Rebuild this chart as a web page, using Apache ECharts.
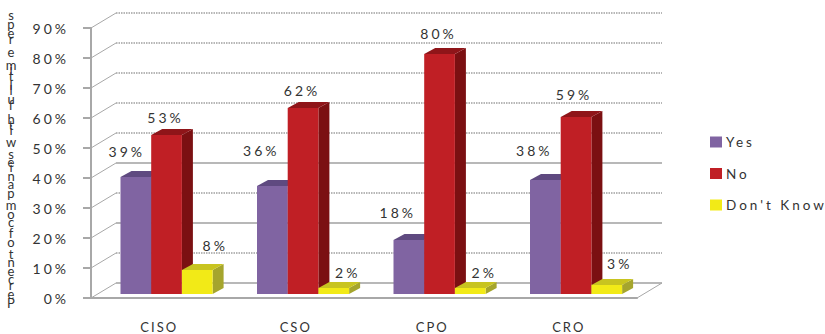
<!DOCTYPE html>
<html>
<head>
<meta charset="utf-8">
<style>
html,body{margin:0;padding:0;background:#fff}
#chart{width:825px;height:334px}
#chart text{letter-spacing:2px}
#chart text[style*="Arial"]{letter-spacing:3px}
</style>
<script src="https://cdn.jsdelivr.net/npm/echarts@6/dist/echarts.min.js"></script>
</head>
<body>
<div id="chart"></div>
<script>
// Survey results by executive role
const categories = ['CISO', 'CSO', 'CPO', 'CRO'];
const yes = [39, 36, 18, 38];
const no = [53, 62, 80, 59];
const dontKnow = [8, 2, 2, 3];
const ticks = [0, 10, 20, 30, 40, 50, 60, 70, 80, 90];
const dottedTicks = [10, 30, 50, 60, 70, 80, 90];
const axisTitle = 'Percent of companies with full time reps';

// Box projection used by the walls and the bars
const WALL = { dx: 25, dy: -15 };
const BOX = { dx: 11, dy: -6, baseLift: 4, bandInset: 29.5, width: 30.7 };
const FONT = 'Lato, sans-serif';
const FONT_WIDE = 'Lato, Arial, sans-serif';
const TEXT = '#333333';

const faces = [
  { name: 'Yes', data: yes, front: '#8064a2', top: '#5f4a80', side: '#5f4a80',
    labelDx: [-9, -11, -11, -11], labelLift: [26, 36, 28, 30] },
  { name: 'No', data: no, front: '#c01f25', top: '#8f1519', side: '#7b1012',
    labelDx: [-1, -1, -1, -2], labelLift: [18, 18, 21, 23] },
  { name: "Don't Know", data: dontKnow, front: '#f2ea17', top: '#c8c420', side: '#a5a52d',
    labelDx: [18, 14, 14, 13], labelLift: [25, 16, 16, 22] }
];

function renderBox(face, order) {
  return function (params, api) {
    const i = api.value(0);
    const value = api.value(1);
    const band = api.size([1, 0])[0];
    const left = api.coord([i, 0])[0] - band / 2 + BOX.bandInset + order * BOX.width;
    const right = left + BOX.width;
    const base = api.coord([i, 0])[1] - BOX.baseLift;
    const top = api.coord([i, value])[1] - BOX.baseLift;
    const poly = (points, fill) => ({ type: 'polygon', shape: { points }, style: { fill } });
    return {
      type: 'group',
      children: [
        poly([[right, top], [right + BOX.dx, top + BOX.dy], [right + BOX.dx, base + BOX.dy], [right, base]], face.side),
        poly([[left, top], [left + BOX.dx, top + BOX.dy], [right + BOX.dx, top + BOX.dy], [right, top]], face.top),
        { type: 'rect', shape: { x: left, y: top, width: BOX.width, height: base - top }, style: { fill: face.front } },
        {
          type: 'text',
          style: {
            text: value + '%',
            x: (left + right) / 2 + face.labelDx[i],
            y: top - face.labelLift[i],
            fill: TEXT,
            font: '14px ' + FONT_WIDE,
            textAlign: 'center',
            textVerticalAlign: 'middle'
          }
        }
      ]
    };
  };
}

function renderWall(params, api) {
  const value = api.value(0);
  const rect = params.coordSys;
  const y = api.coord([0, value])[1];
  const x0 = rect.x;
  const x1 = rect.x + rect.width;
  const dotted = dottedTicks.includes(value);
  const children = [
    {
      type: 'line',
      shape: { x1: x0, y1: y, x2: x0 + WALL.dx, y2: y + WALL.dy },
      style: { stroke: '#a8a8a8', lineWidth: 1 }
    },
    {
      type: 'line',
      shape: { x1: x0 + WALL.dx, y1: y + WALL.dy, x2: x1 + WALL.dx, y2: y + WALL.dy },
      style: { stroke: '#a0a0a0', lineWidth: 1.5, lineDash: dotted ? [1.5, 1] : null }
    }
  ];
  if (value === 0) {
    children.push({
      type: 'line',
      shape: { x1: x1, y1: y, x2: x1 + WALL.dx, y2: y + WALL.dy },
      style: { stroke: '#a8a8a8', lineWidth: 1 }
    });
  }
  return { type: 'group', children };
}

// The vertical title is stacked upright, one letter per step, following each letter's advance
const measure = document.createElement('canvas').getContext('2d');
measure.font = '13px ' + FONT;
const TITLE_STEP = { tracking: 1.62, bottom: 303, x: 12 };
const titleLetters = [];
let cursor = TITLE_STEP.bottom;
for (const ch of axisTitle) {
  if (ch !== ' ') {
    titleLetters.push({
      type: 'text',
      x: TITLE_STEP.x,
      y: cursor,
      style: { text: ch, fill: TEXT, font: '13px ' + FONT, textAlign: 'center', textVerticalAlign: 'middle' }
    });
  }
  cursor -= measure.measureText(ch).width + TITLE_STEP.tracking;
}

const chart = echarts.init(document.getElementById('chart'), null, { renderer: 'svg' });
chart.setOption({
  animation: false,
  backgroundColor: '#ffffff',
  graphic: { elements: titleLetters },
  grid: { left: 91, right: 188, top: 28, bottom: 36, containLabel: false },
  legend: {
    orient: 'vertical',
    left: 705,
    top: 130,
    itemWidth: 12,
    itemHeight: 11,
    itemGap: 17.5,
    icon: 'rect',
    selectedMode: false,
    textStyle: { color: TEXT, fontFamily: FONT_WIDE, fontSize: 13.5, padding: [0, 0, 0, -1] },
    data: faces.map(f => f.name)
  },
  xAxis: {
    type: 'category',
    data: categories,
    axisLine: { lineStyle: { color: '#a8a8a8', width: 2 } },
    axisTick: { length: 5, lineStyle: { color: '#a8a8a8', width: 2 } },
    axisLabel: { color: TEXT, fontFamily: FONT, fontSize: 13, margin: 22 }
  },
  yAxis: {
    type: 'value',
    min: 0,
    max: 90,
    interval: 10,
    splitLine: { show: false },
    axisLine: { show: true, lineStyle: { color: '#a8a8a8', width: 2 } },
    axisTick: { show: true, length: 8, lineStyle: { color: '#a8a8a8', width: 2 } },
    axisLabel: { color: TEXT, fontFamily: FONT_WIDE, fontSize: 14, margin: 22, padding: [4, 0, 0, 0], formatter: '{value}%' }
  },
  series: [
    {
      type: 'custom',
      silent: true,
      renderItem: renderWall,
      encode: { y: 0 },
      data: ticks.map(t => [t]),
      z: 1
    }
  ].concat(faces.map((face, order) => ({
    type: 'custom',
    name: face.name,
    renderItem: renderBox(face, order),
    encode: { x: 0, y: 1 },
    itemStyle: { color: face.front },
    data: face.data.map((v, i) => [i, v]),
    z: 2 + order
  })))
});
</script>
</body>
</html>
